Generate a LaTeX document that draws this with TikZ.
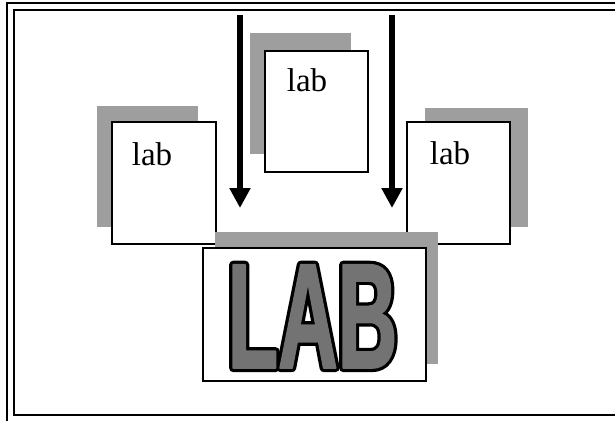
\documentclass[tikz,border=0pt]{standalone}
\usepackage{fontspec}
\setmainfont{Liberation Serif}
\newfontfamily\LABout{Liberation Sans Bold}[FakeStretch=0.55, FakeBold=5.5]
\newfontfamily\LABin{Liberation Sans Bold}[FakeStretch=0.55, FakeBold=1.2]
\usetikzlibrary{arrows.meta}
\tikzset{
  shadowbox/.style={fill=black!38, draw=none},
  labbox/.style={draw=black, line width=1.6pt, fill=white},
  labtext/.style={font=\fontsize{33}{33}\selectfont, anchor=base, inner sep=0pt},
  bigLAB/.style={inner sep=0pt, anchor=base, line join=round, font=\fontsize{150}{150}\selectfont},
  bigarrow/.style={line width=6pt, -{Triangle[width=20pt,length=20pt]}},
  frameline/.style={draw=black}
}
\begin{document}
\begin{tikzpicture}[x=1pt,y=-1pt]
\useasboundingbox (0,0) rectangle (615,420);
\fill[white] (0,0) rectangle (615,420);
% frame
\draw[frameline, line width=2.5pt] (7,3) rectangle (640,440);
\draw[frameline, line width=1.5pt] (14,10) rectangle (630,415);
% shadows of the small boxes
\fill[shadowbox] (97,106) rectangle (198,227);
\fill[shadowbox] (250,33) rectangle (351,154);
\fill[shadowbox] (425,108) rectangle (528,227);
% small boxes
\draw[labbox] (112,122) rectangle (216,244);
\draw[labbox] (265,51) rectangle (368,172);
\draw[labbox] (407,122) rectangle (510,244);
\node[labtext] (lab1) at (152,165) {lab};
\node[labtext] (lab2) at (307,91) {lab};
\node[labtext] (lab3) at (450,164) {lab};
% big box
\fill[shadowbox] (215,232) rectangle (438,364);
\draw[labbox] (203,248) rectangle (426,381);
\begin{scope}[line join=round, miter limit=1]
\node[bigLAB, text=black] (LABo) at (312.5,368) {\LABout LAB};
\node[bigLAB, text=black!55] (LAB) at (312.5,368) {\LABin LAB};
\end{scope}
% arrows
\coordinate (a1s) at (240,15);
\coordinate (a1e) at (240,208);
\coordinate (a2s) at (392,15);
\coordinate (a2e) at (392,208);
\draw[bigarrow] (a1s) -- (a1e);
\draw[bigarrow] (a2s) -- (a2e);
\end{tikzpicture}
\end{document}
